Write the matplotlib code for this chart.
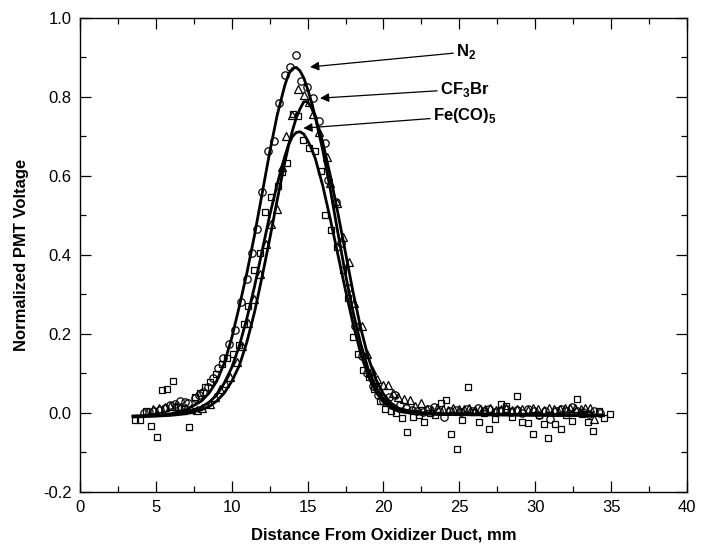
import numpy as np
import matplotlib
matplotlib.use("Agg")
import matplotlib.pyplot as plt
from matplotlib.ticker import MultipleLocator, FormatStrFormatter

plt.rcParams["font.family"] = ["Liberation Sans", "DejaVu Sans"]
plt.rcParams["mathtext.fontset"] = "custom"
plt.rcParams["mathtext.rm"] = "Liberation Sans"
plt.rcParams["mathtext.bf"] = "Liberation Sans:bold"

# N2 measured points (circles)
n2_x = [4.20, 4.55, 4.90, 5.25, 5.60, 5.93, 6.26, 6.59, 6.90, 7.14, 7.58, 7.85,
        8.13, 8.45, 8.79, 9.12, 9.45, 9.84, 10.21, 10.59, 10.98, 11.31, 11.69,
        12.01, 12.41, 12.80, 13.13, 13.50, 13.86, 14.23, 14.56, 14.94, 15.38,
        15.73, 16.14, 16.32, 16.87, 17.20, 17.68, 18.10, 18.56, 18.92, 19.28,
        19.65, 20.00, 20.38, 20.76, 21.12, 21.50, 21.85, 22.20, 22.58, 22.95,
        23.30, 23.65, 24.01, 24.38, 24.75, 25.10, 25.48, 25.85, 26.22, 26.60,
        26.95, 27.32, 27.70, 28.05, 28.42, 28.80, 29.15, 29.52, 29.90, 30.25,
        30.62, 30.97, 31.35, 31.70, 32.05, 32.40, 32.78, 33.15, 33.52, 33.90, 34.25]
n2_y = [0.000, 0.002, 0.005, 0.008, 0.012, 0.020, 0.022, 0.030, 0.028, 0.025, 0.037, 0.045,
        0.052, 0.065, 0.088, 0.113, 0.140, 0.174, 0.210, 0.282, 0.338, 0.404, 0.467,
        0.560, 0.662, 0.688, 0.784, 0.855, 0.875, 0.906, 0.841, 0.826, 0.797,
        0.740, 0.683, 0.590, 0.535, 0.430, 0.316, 0.220, 0.143, 0.100, 0.068,
        0.045, 0.030, 0.040, 0.046, 0.020, 0.012, 0.008, 0.005, 0.003, 0.010,
        0.016, 0.005, -0.011, 0.004, 0.008, 0.002, 0.010, 0.006, 0.012, 0.004,
        0.010, 0.002, 0.006, 0.010, 0.003, 0.008, 0.001, 0.010, 0.004, -0.004,
        0.006, -0.016, 0.004, 0.010, 0.006, 0.016, 0.005, 0.002, -0.002, 0.004, 0.000]

# CF3Br measured points (triangles)
cf_x = [4.83, 5.23, 5.60, 5.93, 6.28, 6.62, 6.97, 7.33, 7.69, 8.05, 8.57, 8.90,
        9.25, 9.55, 9.88, 10.32, 10.70, 11.09, 11.47, 11.86, 12.26, 12.57, 12.95,
        13.33, 13.57, 13.95, 14.34, 14.76, 15.09, 15.38, 15.77, 16.25, 16.47,
        16.91, 17.30, 17.75, 18.06, 18.56, 18.90, 19.25, 19.60, 19.95, 20.32,
        20.65, 20.98, 21.35, 21.75, 22.10, 22.47, 22.85, 23.20, 23.55, 23.90,
        24.25, 24.60, 24.95, 25.30, 25.65, 26.00, 26.35, 26.70, 27.05, 27.40,
        27.75, 28.10, 28.45, 28.80, 29.15, 29.50, 29.85, 30.20, 30.55, 30.90,
        31.25, 31.60, 31.95, 32.30, 32.65, 33.00, 33.30, 33.60, 33.90]
cf_y = [0.009, 0.013, 0.016, 0.018, 0.017, 0.015, 0.012, 0.010, 0.008, 0.012, 0.023, 0.040,
        0.060, 0.075, 0.092, 0.128, 0.170, 0.229, 0.288, 0.352, 0.427, 0.478, 0.516,
        0.622, 0.701, 0.754, 0.820, 0.805, 0.787, 0.756, 0.712, 0.649, 0.581,
        0.531, 0.445, 0.383, 0.278, 0.220, 0.150, 0.110, 0.085, 0.070, 0.071,
        0.050, 0.040, 0.035, 0.033, 0.018, 0.025, 0.010, 0.008, 0.012, 0.010,
        0.008, 0.012, 0.010, 0.009, 0.012, 0.008, 0.011, 0.010, 0.012, 0.008,
        0.010, 0.012, 0.008, 0.011, 0.010, 0.008, 0.012, 0.010, 0.008, 0.012,
        0.010, 0.011, 0.012, 0.012, 0.012, 0.010, 0.012, 0.012, -0.016]

# Fe(CO)5 measured points (squares)
fe_x = [3.62, 3.95, 4.35, 4.66, 5.05, 5.40, 5.76, 6.15, 6.48, 6.85, 7.20, 7.58,
        7.92, 8.27, 8.60, 8.95, 9.33, 9.70, 10.10, 10.50, 10.80, 11.09, 11.47,
        11.86, 12.20, 12.57, 13.03, 13.33, 13.66, 14.01, 14.39, 14.72, 15.11,
        15.49, 15.86, 16.16, 16.52, 16.91, 17.35, 17.65, 18.00, 18.30, 18.67,
        19.06, 19.40, 19.75, 20.10, 20.50, 20.85, 21.19, 21.57, 21.96, 22.33,
        22.69, 23.05, 23.42, 23.79, 24.12, 24.47, 24.82, 25.20, 25.55, 25.92,
        26.30, 26.62, 26.97, 27.35, 27.72, 28.07, 28.45, 28.78, 29.15, 29.50,
        29.87, 30.23, 30.55, 30.86, 31.30, 31.67, 32.03, 32.40, 32.72, 33.10,
        33.45, 33.83, 34.20, 34.55, 34.93]
fe_y = [-0.019, -0.019, 0.006, -0.032, -0.060, 0.058, 0.060, 0.081, 0.016, 0.010, -0.035, 0.041,
        0.050, 0.067, 0.079, 0.098, 0.124, 0.140, 0.150, 0.172, 0.225, 0.271, 0.362,
        0.404, 0.508, 0.548, 0.575, 0.610, 0.632, 0.757, 0.752, 0.691, 0.672,
        0.662, 0.612, 0.501, 0.462, 0.421, 0.362, 0.290, 0.193, 0.150, 0.110,
        0.092, 0.060, 0.030, 0.009, 0.006, 0.000, -0.013, -0.047, -0.009, -0.004,
        -0.024, 0.000, -0.005, 0.026, 0.033, -0.053, -0.092, -0.018, 0.065, 0.002,
        -0.022, 0.000, -0.041, -0.016, 0.022, 0.018, -0.009, 0.043, -0.024, -0.026,
        -0.053, -0.005, -0.029, -0.064, -0.029, -0.041, -0.005, -0.020, 0.035, -0.003,
        -0.022, -0.046, 0.005, -0.012, -0.003]

# fitted curves
fit_x = [3.5, 5, 6, 7, 8, 8.5, 9, 9.5, 10, 10.5, 11, 11.5, 12, 12.5, 13, 13.5,
         13.75, 14, 14.25, 14.5, 14.75, 15, 15.25, 15.5, 16, 16.5, 17, 17.5, 18,
         18.5, 19, 19.5, 20, 20.5, 21, 22, 24, 27, 30, 34.5]
n2_fit = [-0.008, -0.006, -0.002, 0.008, 0.030, 0.050, 0.080, 0.125, 0.190, 0.270,
          0.355, 0.450, 0.555, 0.660, 0.755, 0.830, 0.858, 0.872, 0.875, 0.866,
          0.848, 0.820, 0.788, 0.750, 0.665, 0.565, 0.455, 0.350, 0.255, 0.175,
          0.110, 0.065, 0.035, 0.017, 0.007, 0.000, -0.003, -0.004, -0.005, -0.006]
cf_fit = [-0.010, -0.008, -0.006, -0.002, 0.008, 0.016, 0.030, 0.050, 0.080, 0.120,
          0.180, 0.255, 0.345, 0.440, 0.540, 0.635, 0.678, 0.715, 0.747, 0.770,
          0.788, 0.788, 0.773, 0.750, 0.685, 0.600, 0.505, 0.405, 0.305, 0.215,
          0.140, 0.085, 0.048, 0.025, 0.012, 0.002, -0.002, -0.003, -0.004, -0.005]
fe_fit = [-0.008, -0.007, -0.004, 0.002, 0.015, 0.027, 0.045, 0.075, 0.115, 0.170,
          0.240, 0.320, 0.410, 0.500, 0.580, 0.650, 0.680, 0.700, 0.710, 0.712,
          0.706, 0.690, 0.670, 0.645, 0.575, 0.490, 0.400, 0.310, 0.225, 0.150,
          0.093, 0.053, 0.027, 0.012, 0.004, -0.002, -0.004, -0.005, -0.006, -0.007]

# labels: (text, text x, text y, arrow tip x, arrow tip y)
labels = [("N$_\\mathbf{2}$", 24.78, 0.914, 15.16, 0.876),
          ("CF$_\\mathbf{3}$Br", 23.72, 0.820, 15.82, 0.797),
          ("Fe(CO)$_\\mathbf{5}$", 23.26, 0.752, 14.72, 0.721)]

fig = plt.figure(figsize=(7.03, 5.5), dpi=100)
ax = fig.add_axes([0.1138, 0.1055, 0.8634, 0.8618])

mk = dict(linestyle="none", markerfacecolor="none", markeredgecolor="black",
          markeredgewidth=0.9)
ax.plot(n2_x, n2_y, marker="o", markersize=5.3, **mk)
ax.plot(cf_x, cf_y, marker="^", markersize=6.3, **mk)
ax.plot(fe_x, fe_y, marker="s", markersize=5, **mk)

for fy in (n2_fit, cf_fit, fe_fit):
    ax.plot(fit_x, fy, color="black", linewidth=2.0, solid_joinstyle="round")

for txt, tx, ty, ax_, ay in labels:
    ax.annotate(txt, xy=(ax_, ay), xytext=(tx, ty), fontsize=12, fontweight="bold",
                ha="left", va="center",
                arrowprops=dict(arrowstyle="-|>", color="black", lw=0.9,
                                mutation_scale=13, shrinkA=0, shrinkB=0))

ax.set_xlim(0, 40)
ax.set_ylim(-0.2, 1.0)
ax.xaxis.set_major_locator(MultipleLocator(5))
ax.xaxis.set_minor_locator(MultipleLocator(2.5))
ax.yaxis.set_major_locator(MultipleLocator(0.2))
ax.yaxis.set_minor_locator(MultipleLocator(0.1))
ax.yaxis.set_major_formatter(FormatStrFormatter("%.1f"))
ax.tick_params(which="both", direction="in", top=True, right=True, labelsize=12)
ax.tick_params(which="major", length=8, width=0.9, pad=6)
ax.tick_params(which="minor", length=4, width=0.9)
for s in ax.spines.values():
    s.set_linewidth(1.0)

ax.set_xlabel("Distance From Oxidizer Duct, mm", fontsize=12, fontweight="bold", labelpad=9)
ax.set_ylabel("Normalized PMT Voltage", fontsize=12, fontweight="bold", labelpad=10)

fig.savefig("out.png", dpi=100)
